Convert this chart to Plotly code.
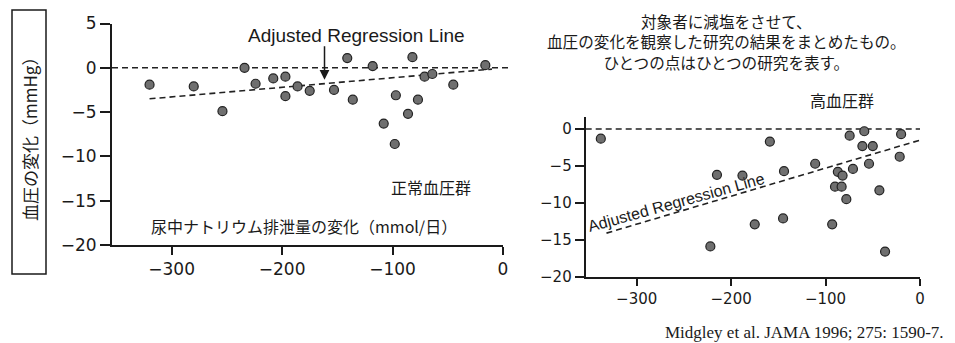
import plotly.graph_objects as go

# ---- data ----
normo_x = [-320, -280, -254, -234, -224, -208, -197, -197, -186, -175, -153, -141,
           -136, -118, -108, -98, -97, -86, -82, -77, -71, -64, -45, -16]
normo_y = [-1.9, -2.1, -4.9, 0.0, -1.8, -1.2, -1.0, -3.2, -2.1, -2.6, -2.5, 1.1,
           -3.6, 0.2, -6.3, -8.6, -3.1, -5.2, 1.2, -3.6, -1.0, -0.7, -1.9, 0.3]
normo_reg_x = [-320, -10]
normo_reg_y = [-3.5, -0.15]

hyper_x = [-338, -222, -215, -188, -175, -159, -145, -144, -111, -93, -90, -87, -83,
           -82, -78, -74.5, -71, -61, -59, -54, -50, -43, -37, -21.5, -20, -2.5]
hyper_y = [-1.3, -15.9, -6.2, -6.3, -12.9, -1.7, -12.1, -5.7, -4.7, -12.9, -7.8, -5.8,
           -7.8, -6.3, -9.5, -0.9, -5.4, -2.3, -0.3, -4.7, -2.3, -8.3, -16.6, -3.75, -0.7, 3.4]
hyper_reg_x = [-332, 0]
hyper_reg_y = [-14.1, -1.5]

x_ticks = [-300, -200, -100, 0]
left_y_ticks = [5, 0, -5, -10, -15, -20]
right_y_ticks = [0, -5, -10, -15, -20]

title_lines = ["対象者に減塩をさせて、",
               "血圧の変化を観察した研究の結果をまとめたもの。",
               "ひとつの点はひとつの研究を表す。"]

W, H = 955, 343          # browser window
OFF = 8                  # default body margin of the html page
FW, FH = W - OFF, H - OFF


def px(x):
    return (x - OFF) / FW


def py(y):
    return 1 - (y - OFF) / FH


JP = "Noto Sans CJK JP"
NUM = "DejaVu Sans"
INK = "#1a1a1a"

marker = dict(size=9, color="#6f6f6f", line=dict(width=1.2, color="#222"))
dash_line = dict(color="#222", width=1.6, dash="6px,4px")

fig = go.Figure()
fig.add_trace(go.Scatter(x=normo_reg_x, y=normo_reg_y, mode="lines", line=dash_line,
                         xaxis="x", yaxis="y", hoverinfo="skip"))
fig.add_trace(go.Scatter(x=normo_x, y=normo_y, mode="markers", marker=marker,
                         xaxis="x", yaxis="y", cliponaxis=False))
fig.add_trace(go.Scatter(x=hyper_reg_x, y=hyper_reg_y, mode="lines", line=dash_line,
                         xaxis="x2", yaxis="y2", hoverinfo="skip"))
fig.add_trace(go.Scatter(x=hyper_x, y=hyper_y, mode="markers", marker=marker,
                         xaxis="x2", yaxis="y2", cliponaxis=False))

axis_common = dict(showgrid=False, zeroline=False, showline=True, linecolor=INK,
                   linewidth=2, ticks="outside", tickcolor=INK, tickwidth=2,
                   automargin=False)

fig.update_layout(
    width=FW, height=FH, margin=dict(l=0, r=0, t=0, b=0, pad=0),
    paper_bgcolor="white", plot_bgcolor="white", showlegend=False,
    xaxis=dict(domain=[px(112), px(503)], range=[-354, 0], tickvals=x_ticks,
               ticklen=8, tickfont=dict(family=NUM, size=17, color=INK),
               anchor="y", **axis_common),
    yaxis=dict(domain=[py(245), py(23.5)], range=[-20, 5], tickvals=left_y_ticks,
               ticklen=10, tickfont=dict(family=NUM, size=17, color=INK),
               anchor="x", **axis_common),
    xaxis2=dict(domain=[px(585.7), px(920)], range=[-354, 0], tickvals=x_ticks,
                ticklen=7, tickfont=dict(family=NUM, size=15, color=INK),
                anchor="y2", **axis_common),
    yaxis2=dict(domain=[py(276.7), py(116.5)], range=[-20, 1.7],
                tickvals=right_y_ticks, ticklen=9,
                tickfont=dict(family=NUM, size=15, color=INK),
                anchor="x2", **axis_common),
)

# zero reference lines
fig.add_shape(type="line", xref="paper", yref="y", x0=px(112), x1=px(510), y0=0, y1=0,
              line=dash_line, layer="below")
fig.add_shape(type="line", xref="x2 domain", yref="y2", x0=0, x1=1, y0=0, y1=0,
              line=dash_line, layer="below")

# y-axis title box
fig.add_shape(type="rect", xref="paper", yref="paper", x0=px(12), x1=px(46),
              y0=py(274), y1=py(10), line=dict(color=INK, width=1.5))

C = dict(xanchor="center", yanchor="middle", showarrow=False)
ann = []
ann.append(dict(text="血圧の変化（mmHg）", xref="paper", yref="paper", x=px(29),
                y=py(135), textangle=-90, font=dict(family=JP, size=17, color=INK), **C))
ann.append(dict(text="Adjusted Regression Line", xref="x", yref="y", x=-132.6, y=3.7,
                font=dict(family="Liberation Sans", size=19, color=INK), **C))
ann.append(dict(text="", xref="x", yref="y", x=-161.6, y=-1.35, axref="x", ayref="y",
                ax=-161.6, ay=2.6, showarrow=True, arrowhead=2, arrowsize=1.3,
                arrowwidth=1.5, arrowcolor=INK))
ann.append(dict(text="正常血圧群", xref="x", yref="y", x=-65.6, y=-13.5,
                font=dict(family=JP, size=16, color=INK), **C))
ann.append(dict(text="尿中ナトリウム排泄量の変化（mmol/日）", xref="x", yref="y", x=-180.5,
                y=-17.8, font=dict(family=JP, size=16, color=INK), **C))
ann.append(dict(text="高血圧群", xref="paper", yref="paper", x=px(841.7), y=py(100),
                font=dict(family=JP, size=16, color=INK), **C))
ann.append(dict(text="Adjusted Regression Line", xref="x2", yref="y2", x=-258.5, y=-9.96,
                textangle=-15.5, font=dict(family="Liberation Sans", size=16, color=INK), **C))
ann.append(dict(text="<br>".join(title_lines), xref="paper", yref="paper", x=px(726.7),
                y=py(41.1), align="center", font=dict(family=JP, size=15.6, color=INK), **C))
ann.append(dict(text="Midgley et al. JAMA 1996; 275: 1590-7.", xref="paper", yref="paper",
                x=px(945.7), y=py(332.7), xanchor="right", yanchor="middle",
                showarrow=False, font=dict(family="Liberation Serif", size=17, color=INK)))
fig.update_layout(annotations=ann)

fig.write_html("out.html")
